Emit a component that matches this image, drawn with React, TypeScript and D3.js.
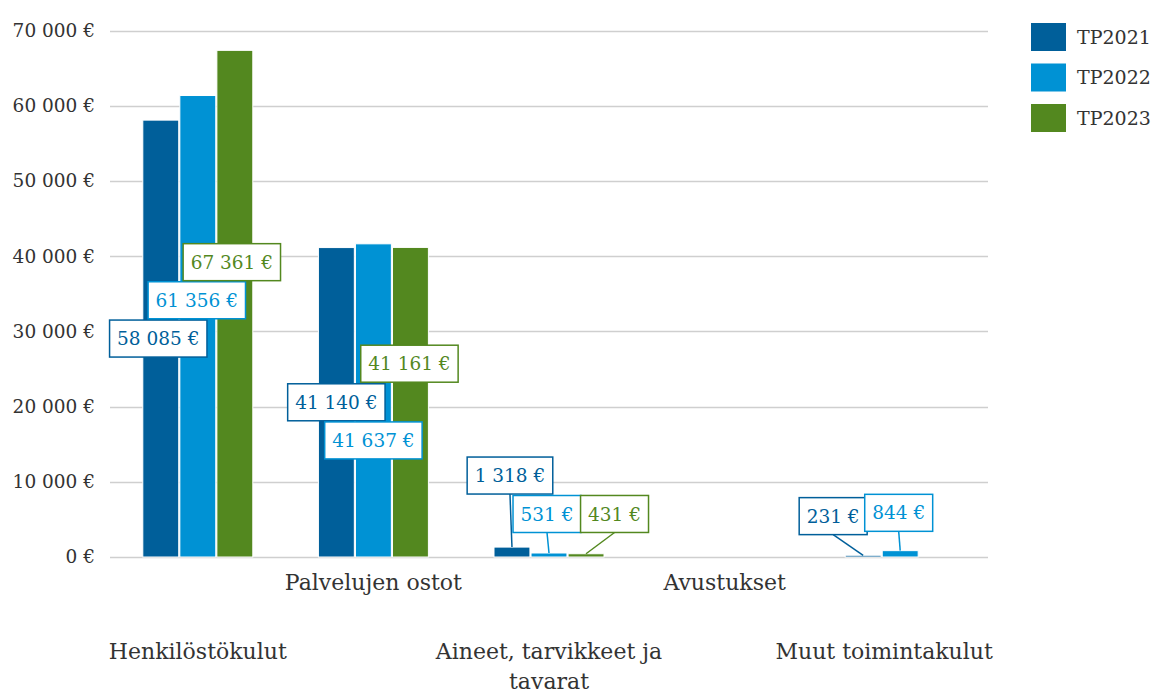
import React, { useEffect, useRef } from "react";
import * as d3 from "d3";

const categories = [
  "Henkilöstökulut",
  "Palvelujen ostot",
  "Aineet, tarvikkeet ja tavarat",
  "Avustukset",
  "Muut toimintakulut",
];
const seriesNames = ["TP2021", "TP2022", "TP2023"];
const tp2021: (number | null)[] = [58085, 41140, 1318, null, 231];
const tp2022: (number | null)[] = [61356, 41637, 531, null, 844];
const tp2023: (number | null)[] = [67361, 41161, 431, null, null];
const yTicks = [0, 10000, 20000, 30000, 40000, 50000, 60000, 70000];

const colors = ["#005f9a", "#0092d4", "#53881f"];
// callout placement: [dx, dy] in px from bar centre / bar mid-height
const labelOffsets2021 = [[-2.5, 0], [0, 0], [-2, -76.5], null, [-30, -40]];
const labelOffsets2022 = [[-1, -26], [0, 40], [-2, -41], null, [-1.5, -41]];
const labelOffsets2023 = [[-3, -41.5], [-1, -38.5], [28.5, -41.4], null, null];

const W = 1155;
const H = 693;
const FONT = "'DejaVu Serif', serif";
const TEXT = "#333333";

export default function App() {
  const ref = useRef<SVGSVGElement>(null);

  useEffect(() => {
    const svg = d3.select(ref.current);
    svg.selectAll("*").remove();

    const series = [tp2021, tp2022, tp2023];
    const offsets = [labelOffsets2021, labelOffsets2022, labelOffsets2023];

    const locale = d3.formatLocale({
      decimal: ",",
      thousands: "\u00a0",
      grouping: [3],
      currency: ["", "\u00a0€"],
    });
    const fmt = locale.format("$,.0f");

    const x0 = d3
      .scaleBand<string>()
      .domain(categories)
      .range([110, 988])
      .paddingInner(0.3736)
      .paddingOuter(0.1868);
    const x1 = d3
      .scaleBand<string>()
      .domain(seriesNames)
      .range([0, x0.bandwidth()])
      .paddingInner(0.03);
    const y = d3.scaleLinear().domain([0, 70000]).range([557, 30.5]);

    // grid
    const grid = svg.append("g");
    yTicks.forEach((t) => {
      grid
        .append("line")
        .attr("x1", 110)
        .attr("x2", 988)
        .attr("y1", Math.round(y(t)) + 0.5)
        .attr("y2", Math.round(y(t)) + 0.5)
        .attr("stroke", "#cfcfcf")
        .attr("stroke-width", 1.5);
      grid
        .append("text")
        .attr("x", 95)
        .attr("y", y(t))
        .attr("dy", "0.35em")
        .attr("text-anchor", "end")
        .attr("font-family", FONT)
        .attr("font-size", 18.5)
        .attr("fill", TEXT)
        .text(fmt(t));
    });

    // bars
    const bars = svg.append("g");
    series.forEach((vals, si) => {
      vals.forEach((v, ci) => {
        if (v == null) return;
        const bx = x0(categories[ci])! + x1(seriesNames[si])!;
        bars
          .append("rect")
          .attr("x", bx)
          .attr("y", y(v))
          .attr("width", x1.bandwidth())
          .attr("height", y(0) - y(v))
          .attr("fill", colors[si])
          .attr("stroke", "#ffffff")
          .attr("stroke-width", 1);
      });
    });

    // labels
    const labels = svg.append("g");
    series.forEach((vals, si) => {
      vals.forEach((v, ci) => {
        if (v == null) return;
        const off = offsets[si][ci];
        if (!off) return;
        const bcx = x0(categories[ci])! + x1(seriesNames[si])! + x1.bandwidth() / 2;
        const top = y(v);
        const mid = (y(v) + y(0)) / 2;
        const cx = bcx + off[0];
        const cy = mid + off[1];
        const g = labels.append("g");
        const line = g.append("line");
        const rect = g.append("rect");
        const txt = g
          .append("text")
          .attr("x", cx)
          .attr("y", cy)
          .attr("dy", "0.36em")
          .attr("text-anchor", "middle")
          .attr("font-family", FONT)
          .attr("font-size", 18.5)
          .attr("fill", colors[si])
          .text(fmt(v));
        const tw = (txt.node() as SVGTextElement).getComputedTextLength();
        const bw = tw + 15;
        const bh = 37;
        rect
          .attr("x", cx - bw / 2)
          .attr("y", cy - bh / 2)
          .attr("width", bw)
          .attr("height", bh)
          .attr("fill", "#ffffff")
          .attr("stroke", colors[si])
          .attr("stroke-width", 1.5);
        const bottom = cy + bh / 2;
        if (bottom < top) {
          line
            .attr("x1", cx)
            .attr("y1", bottom)
            .attr("x2", bcx)
            .attr("y2", top)
            .attr("stroke", colors[si])
            .attr("stroke-width", 1.5);
        } else {
          line.remove();
        }
      });
    });

    // category labels
    const cat = svg.append("g");
    const maxW = 240;
    categories.forEach((c, i) => {
      const cx = x0(c)! + x0.bandwidth() / 2;
      const baseY = i % 2 === 0 ? 659 : 590;
      const t = cat
        .append("text")
        .attr("font-family", FONT)
        .attr("font-size", 22)
        .attr("fill", TEXT)
        .attr("text-anchor", "middle");
      const words = c.split(" ");
      const lines: string[] = [];
      let cur = "";
      const probe = t.append("tspan");
      words.forEach((w) => {
        const test = cur ? cur + " " + w : w;
        probe.text(test);
        if ((probe.node() as SVGTSpanElement).getComputedTextLength() > maxW && cur) {
          lines.push(cur);
          cur = w;
        } else {
          cur = test;
        }
      });
      lines.push(cur);
      probe.remove();
      lines.forEach((ln, li) => {
        t.append("tspan")
          .attr("x", cx)
          .attr("y", baseY + li * 30)
          .text(ln);
      });
      const bb = (t.node() as SVGTextElement).getBBox();
      if (bb.x + bb.width > 993) {
        const shift = bb.x + bb.width - 993;
        t.selectAll("tspan").attr("x", cx - shift);
      }
    });

    // legend
    const leg = svg.append("g");
    seriesNames.forEach((s, i) => {
      const ly = 23 + i * 40.5;
      leg
        .append("rect")
        .attr("x", 1031)
        .attr("y", ly)
        .attr("width", 35)
        .attr("height", 28)
        .attr("fill", colors[i]);
      leg
        .append("text")
        .attr("x", 1077)
        .attr("y", ly + 14)
        .attr("dy", "0.36em")
        .attr("font-family", FONT)
        .attr("font-size", 19)
        .attr("fill", TEXT)
        .text(s);
    });
  }, []);

  return (
    <svg
      ref={ref}
      width={W}
      height={H}
      style={{ position: "absolute", left: 0, top: 0, background: "#ffffff" }}
    />
  );
}
